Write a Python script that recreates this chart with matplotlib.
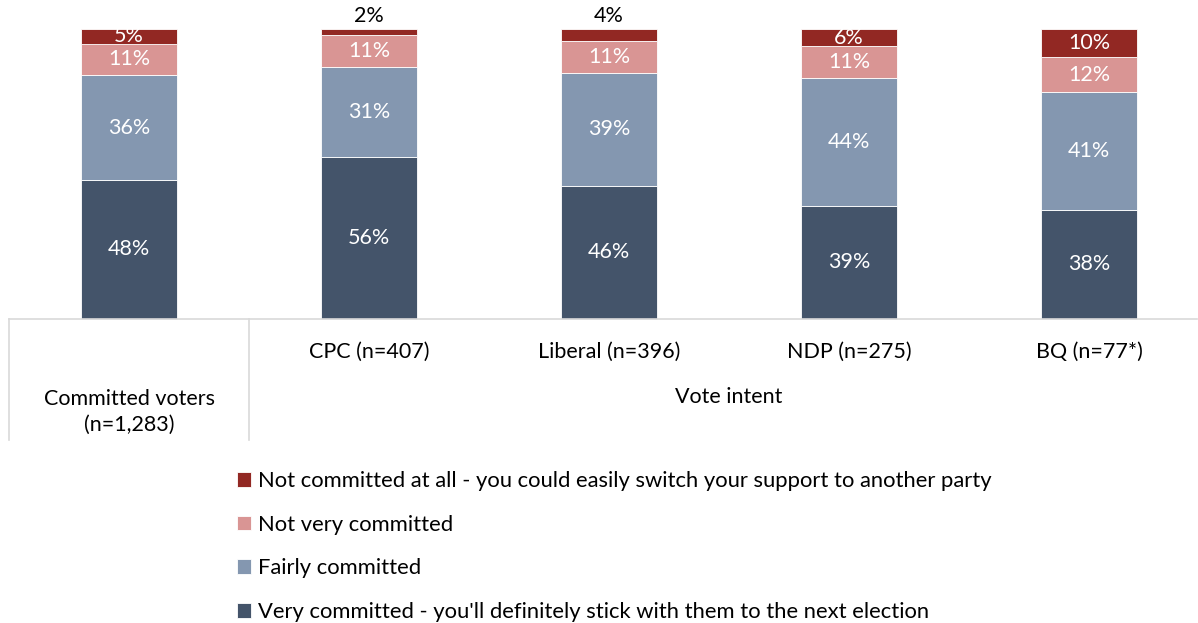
import matplotlib.pyplot as plt
import numpy as np

plt.rcParams['font.family'] = ['Lato', 'DejaVu Sans']

groups = ['Committed voters\n(n=1,283)', 'CPC (n=407)', 'Liberal (n=396)', 'NDP (n=275)', 'BQ (n=77*)']
series = ["Very committed - you'll definitely stick with them to the next election",
          'Fairly committed',
          'Not very committed',
          'Not committed at all - you could easily switch your support to another party']
very = [48, 56, 46, 39, 37.6]
fairly = [36, 31, 39, 44, 40.7]
not_very = [11, 11, 11, 11, 12.0]
not_at_all = [5, 2, 4, 6, 9.7]
colors = ['#44546a', '#8497b0', '#d99594', '#922823']

fig = plt.figure(figsize=(11.98, 6.23), dpi=100)
ax = fig.add_axes([9/1198, 1 - 319/623, 1188/1198, 290/623])

x = np.arange(len(groups))
bottom = np.zeros(len(groups))
handles = []
for vals, name, col in zip([very, fairly, not_very, not_at_all], series, colors):
    vals = np.array(vals, dtype=float)
    b = ax.bar(x, vals, 0.4, bottom=bottom, color=col, edgecolor='white', linewidth=0.6,
               label=name, clip_on=False)
    handles.append(b)
    for xi, v, bt in zip(x, vals, bottom):
        if v < 5:
            ax.text(xi, bt + v + 1, f'{v:.0f}%', ha='center', va='bottom', fontsize=15.5, color='black')
        else:
            ax.text(xi, bt + v / 2, f'{v:.0f}%', ha='center', va='center', fontsize=15.5, color='white')
    bottom += vals

ax.set_xlim(-0.5, 4.45)
ax.set_ylim(0, 100)
for s in ax.spines.values():
    s.set_visible(False)
ax.set_xticks([])
ax.set_yticks([])

# category axis with group separators
trans = ax.get_xaxis_transform()
lc = '#d9d9d9'
depth = -121 / 290
ax.plot([-0.5, 4.45], [0, 0], transform=trans, color=lc, lw=1.2, clip_on=False)
for xv in [-0.5, 0.5]:
    ax.plot([xv, xv], [0, depth], transform=trans, color=lc, lw=1.2, clip_on=False)

ax.text(0, -93 / 290, groups[0], transform=trans, ha='center', va='center', fontsize=15.5, linespacing=1.35)
for xi, g in zip(x[1:], groups[1:]):
    ax.text(xi, -33 / 290, g, transform=trans, ha='center', va='center', fontsize=15.5)
ax.text(2.5, -78 / 290, 'Vote intent', transform=trans, ha='center', va='center', fontsize=15.5)

fig.legend(handles[::-1], series[::-1], loc='upper left', bbox_to_anchor=(226/1198, 1 - 460/623),
           frameon=False, fontsize=15.8, handlelength=0.65, handleheight=0.65, handletextpad=0.3,
           labelspacing=1.08, borderpad=0)

fig.savefig('out.png', dpi=100)
